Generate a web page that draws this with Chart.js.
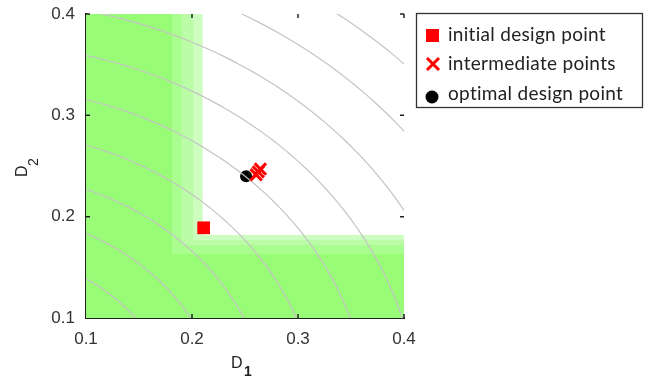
<!DOCTYPE html>
<html>
<head>
<meta charset="utf-8">
<script src="https://cdn.jsdelivr.net/npm/chart.js@4.4.1/dist/chart.umd.min.js"></script>
<style>
  html, body { margin: 0; padding: 0; background: #fff; }
</style>
</head>
<body>
<canvas id="designChart" width="645" height="379"></canvas>
<script>
// axis ticks (both axes share them)
const tickValues = [0.1, 0.2, 0.3, 0.4];

// contour levels of the objective sqrt(0.8*D1^2 + D2^2)
const contourLevels = [0.165, 0.204, 0.244, 0.285, 0.328, 0.370, 0.413, 0.457, 0.501];
const d1Weight = 0.8;

// design points
const initialPoint = [{ x: 0.211, y: 0.189 }];
const intermediatePoints = [
    { x: 0.2645, y: 0.2470 },
    { x: 0.2625, y: 0.2442 },
    { x: 0.2605, y: 0.2413 }
];
const optimalPoint = [{ x: 0.251, y: 0.240 }];

// constraint-violated regions: edges of each shade, dark -> light
const d1Limits = [0.181, 0.190, 0.201, 0.210];
const d2Limits = [0.163, 0.172, 0.177, 0.182];
const shadeColors = ['#99fc76', '#aafd8f', '#bbfda7', '#cdfebf'];

const legendItems = ['initial design point', 'intermediate points', 'optimal design point'];

// one line per contour level, a quarter ellipse around the origin
const contourSets = contourLevels.map(level => {
    const pts = [];
    for (let i = 0; i <= 90; i++) {
        const t = i / 90 * Math.PI / 2;
        pts.push({ x: level / Math.sqrt(d1Weight) * Math.cos(t), y: level * Math.sin(t) });
    }
    return {
        data: pts,
        showLine: true,
        borderColor: '#c4c4c4',
        borderWidth: 1.2,
        pointRadius: 0,
        order: 5
    };
});

// green bands behind everything
const shadePlugin = {
    id: 'shades',
    beforeDatasetsDraw(chart) {
        const { ctx, chartArea: a, scales: { x, y } } = chart;
        ctx.save();
        ctx.beginPath();
        ctx.rect(a.left, a.top, a.right - a.left, a.bottom - a.top);
        ctx.clip();
        for (let i = shadeColors.length - 1; i >= 0; i--) {
            ctx.fillStyle = shadeColors[i];
            const xr = x.getPixelForValue(d1Limits[i]);
            ctx.fillRect(a.left, a.top, xr - a.left, a.bottom - a.top);
            const yt = y.getPixelForValue(d2Limits[i]);
            ctx.fillRect(a.left, yt, a.right - a.left, a.bottom - yt);
        }
        ctx.restore();
    }
};

// inward tick marks on all four sides
const tickPlugin = {
    id: 'inTicks',
    afterDraw(chart) {
        const { ctx, chartArea: a, scales: { x, y } } = chart;
        ctx.save();
        ctx.strokeStyle = '#222';
        ctx.lineWidth = 1.5;
        ctx.beginPath();
        tickValues.slice(1).forEach(v => {
            const px = x.getPixelForValue(v);
            ctx.moveTo(px, a.bottom); ctx.lineTo(px, a.bottom - 4);
            ctx.moveTo(px, a.top); ctx.lineTo(px, a.top + 4);
            const py = y.getPixelForValue(v);
            ctx.moveTo(a.left, py); ctx.lineTo(a.left + 4, py);
            ctx.moveTo(a.right, py); ctx.lineTo(a.right - 4, py);
        });
        ctx.stroke();
        ctx.restore();
    }
};

// axis titles with subscripts, and the boxed legend
const textPlugin = {
    id: 'titlesLegend',
    afterDraw(chart) {
        const ctx = chart.ctx;
        ctx.save();
        ctx.fillStyle = '#222';
        ctx.textAlign = 'left';
        ctx.textBaseline = 'alphabetic';

        ctx.font = '16px "Liberation Sans"';
        ctx.fillText('D', 231, 368);
        ctx.font = 'bold 14px "Liberation Sans"';
        ctx.fillText('1', 244, 376);

        ctx.save();
        ctx.translate(27, 177);
        ctx.rotate(-Math.PI / 2);
        ctx.font = '16px "Liberation Sans"';
        ctx.fillText('D', 0, 0);
        ctx.font = '14px "Liberation Sans"';
        ctx.fillText('2', 11, 11);
        ctx.restore();

        // legend box
        ctx.strokeStyle = '#333';
        ctx.lineWidth = 1.3;
        ctx.strokeRect(416.5, 13.5, 226, 94);

        const rows = [35, 64, 94];
        ctx.fillStyle = '#ff0000';
        ctx.fillRect(426, rows[0] - 6, 13, 13);
        ctx.strokeStyle = '#ff0000';
        ctx.lineWidth = 3;
        ctx.beginPath();
        ctx.moveTo(427, rows[1] - 6); ctx.lineTo(439, rows[1] + 6);
        ctx.moveTo(439, rows[1] - 6); ctx.lineTo(427, rows[1] + 6);
        ctx.stroke();
        ctx.fillStyle = '#000';
        ctx.beginPath();
        ctx.arc(432, rows[2] + 3, 6.5, 0, Math.PI * 2);
        ctx.fill();

        ctx.fillStyle = '#222';
        ctx.font = '19px Lato';
        ctx.letterSpacing = '0.3px';
        legendItems.forEach((t, i) => ctx.fillText(t, 448, rows[i] + 6));
        ctx.restore();
    }
};

const ctx = document.getElementById('designChart').getContext('2d');
const designChart = new Chart(ctx, {
    type: 'scatter',
    data: {
        datasets: [
            {
                label: legendItems[0],
                data: initialPoint,
                pointStyle: 'rect',
                pointRadius: 9,
                pointBackgroundColor: '#ff0000',
                pointBorderWidth: 0,
                order: 1
            },
            {
                label: legendItems[1],
                data: intermediatePoints,
                pointStyle: 'crossRot',
                pointRadius: 8,
                pointBorderColor: '#ff0000',
                pointBorderWidth: 3,
                order: 1
            },
            {
                label: legendItems[2],
                data: optimalPoint,
                pointStyle: 'circle',
                pointRadius: 6,
                pointBackgroundColor: '#000',
                pointBorderWidth: 0,
                order: 6
            },
            ...contourSets
        ]
    },
    options: {
        responsive: false,
        devicePixelRatio: 1,
        animation: false,
        events: [],
        layout: { padding: { left: 0, top: 14, right: 241, bottom: 0 } },
        plugins: {
            legend: { display: false },
            tooltip: { enabled: false }
        },
        scales: {
            x: {
                type: 'linear',
                min: 0.1,
                max: 0.4,
                afterBuildTicks: s => { s.ticks = tickValues.map(v => ({ value: v })); },
                afterFit: s => { s.height = 61; s.paddingLeft = 0; s.paddingRight = 0; },
                grid: { display: false, drawTicks: false },
                border: { display: true, color: '#222', width: 2 },
                ticks: {
                    padding: 11,
                    color: '#333',
                    font: { family: 'Liberation Sans', size: 17 },
                    callback: v => v.toFixed(1)
                }
            },
            y: {
                type: 'linear',
                min: 0.1,
                max: 0.4,
                afterBuildTicks: s => { s.ticks = tickValues.map(v => ({ value: v })); },
                afterFit: s => { s.width = 86; s.paddingTop = 0; s.paddingBottom = 0; },
                grid: { display: false, drawTicks: false },
                border: { display: true, color: '#222', width: 2 },
                ticks: {
                    padding: 11,
                    color: '#333',
                    font: { family: 'Liberation Sans', size: 17 },
                    callback: v => v.toFixed(1)
                }
            }
        }
    },
    plugins: [shadePlugin, tickPlugin, textPlugin]
});
</script>
</body>
</html>
